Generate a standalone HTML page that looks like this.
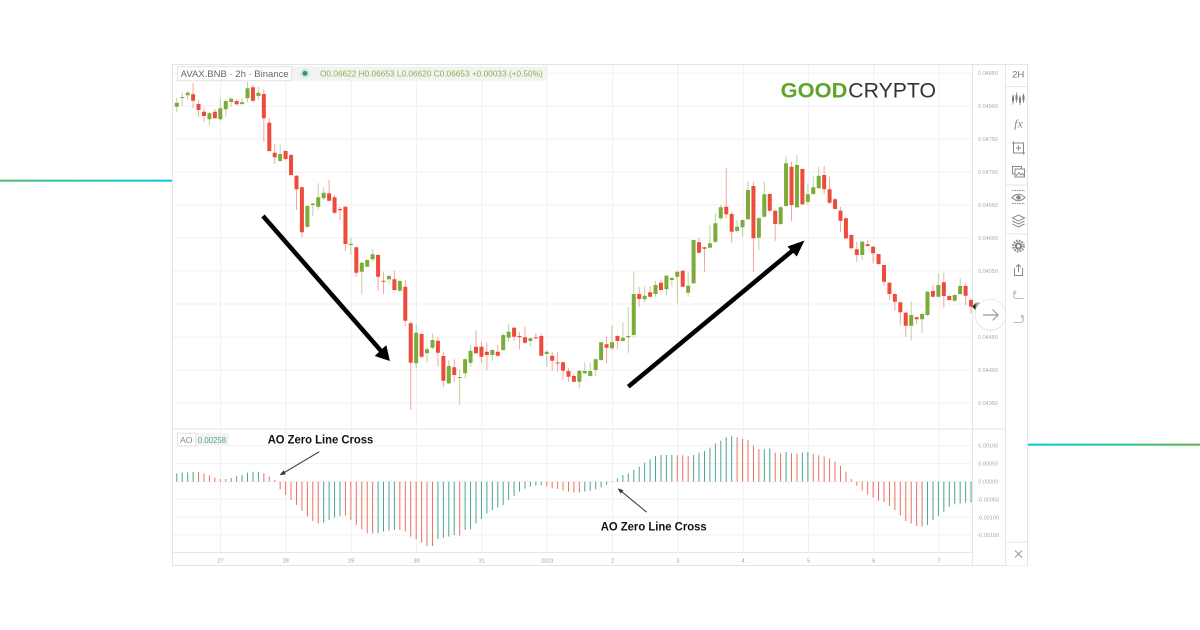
<!DOCTYPE html>
<html><head><meta charset="utf-8"><style>
html,body{margin:0;padding:0;background:#fff;}
svg{display:block;font-family:"Liberation Sans",Arial,sans-serif;}
</style></head><body>
<svg width="1200" height="630" viewBox="0 0 1200 630" xmlns="http://www.w3.org/2000/svg">
<defs>
<linearGradient id="gl" x1="0" x2="1" y1="0" y2="0"><stop offset="0" stop-color="#4fb86c"/><stop offset="1" stop-color="#00c8e4"/></linearGradient>
<linearGradient id="gr" x1="0" x2="1" y1="0" y2="0"><stop offset="0" stop-color="#00c8e4"/><stop offset="1" stop-color="#5cb548"/></linearGradient>
</defs>
<rect width="1200" height="630" fill="#fff"/>
<rect x="0" y="179.7" width="172" height="2" fill="url(#gl)"/>
<rect x="1028" y="443.7" width="172" height="2" fill="url(#gr)"/>

<!-- frame -->
<rect x="172.5" y="64.5" width="855" height="501" fill="#fff" stroke="#e4e4e4"/>

<!-- grid -->
<g stroke="#f1f1f1" stroke-width="1">
<path d="M173 73H972M173 106H972M173 139H972M173 172H972M173 205H972M173 238H972M173 271H972M173 304H972M173 337H972M173 370H972M173 403H972"/>
<path d="M173 445.7H972M173 463.7H972M173 481.7H972M173 499.3H972M173 517.3H972M173 535H972"/>
<path d="M220.5 65V552M285.8 65V552M351.2 65V552M416.5 65V552M481.8 65V552M547.2 65V552M612.5 65V552M677.8 65V552M743.2 65V552M808.5 65V552M873.8 65V552M939.2 65V552"/>
</g>
<g stroke="#e6e6e6" stroke-width="1">
<path d="M173 429H1005M173 552.5H972M972.5 65V566M1005.5 65V566"/>
</g>

<!-- candles -->
<g transform="matrix(5.44 0 0 1 176.8 0)" fill="none">
<path vector-effect="non-scaling-stroke" stroke="#7aab3b" stroke-opacity="0.5" stroke-width="1" d="M0 98V112M1 92.7V106M2 91V100M6 111.7V126M8 98V120.7M9 99V116.7M10 97.7V106.7M12 98.3V105M13 81.7V101.7M15 86.7V100M19 144.3V161.7M24 205V228.3M25 203.3V216M26 183.3V210M27 187.3V200M32 238.3V255M34 261.7V294M35 259.3V267.3M36 249.3V261.7M39 275V284M41 280V291.7M44 324V368.3M46 346.7V362.7M47 333.3V349.3M50 360V384.3M52 369.3V405M53 358.3V378.3M54 345V366.7M58 349.3V360.7M60 333.3V350.7M61 324V341.7M65 337.7V346.7M68 350.7V366.7M74 370V388.3M75 362.3V374M76 362.7V376.7M77 358.3V376M78 341.7V360.7M80 325V350M82 322.3V341.7M83 306.7V352.7M84 271.7V337.3M86 286V302.7M88 280.7V296.7M90 275V295M91 276.7V286.7M92 271V303.3M94 271.7V296.7M95 239.3V284M98 225V248M99 213.3V243.3M100 205V220M103 220V232.7M104 219.3V236.7M105 181V220M107 216.7V250M108 181.7V217.3M111 206V225M112 156.7V206.7M114 155V208.3M116 183.3V205M117 176V195M118 167.3V189.3M126 240.7V260M135 301.7V340.7M137 312.7V333.3M138 290.7V316M140 273.3V297.3M143 294V301.7M144 278.3V295"/>
<path vector-effect="non-scaling-stroke" stroke="#ef4b3b" stroke-opacity="0.5" stroke-width="1" d="M3 83V108M4 100V117M5 108V121.7M7 109V119M11 99.3V105M14 85V102.7M16 89.3V141.7M17 118.3V151.7M18 144V164M20 150V160M21 154V175.7M22 175V210M23 186.7V237.3M28 180V201.7M29 195V214M30 206.7V220M31 206V250.7M33 246.7V276.7M37 254V290.7M38 271.7V294M40 270.7V290.7M42 280V326M43 321.7V410M45 332.7V358.3M48 336.7V366.7M49 351.7V386.7M51 359.3V381.7M55 330V354M56 341.7V363.3M57 342.7V370M59 345V356.7M62 326.7V340.7M63 331.7V349.3M64 326.7V344M66 333.3V339.3M67 333.3V356M69 351.7V370.7M70 351.7V371.7M71 361.7V379.3M72 368.3V381.7M73 374V382.3M79 336.7V363.3M81 335V349.3M85 286.7V306.7M87 286V297.3M89 280V290.7M93 270V287.3M96 237.7V253.3M97 246.7V271.7M101 168.3V218.3M102 211.7V243.3M106 181.7V271.7M109 193.3V211.7M110 210V240.7M113 161.7V220.7M115 168.3V205M119 166V194M120 176.7V204M121 198.3V209.3M122 206.7V231.7M123 217.3V239.3M124 234.3V249.3M125 241.7V261.7M127 240V246.7M128 246V263.3M129 254V265M130 265V286M131 281.7V300M132 293.3V310.7M133 301.7V325M134 311.7V336.7M136 316.7V324.3M139 285V297.3M141 272.7V308.3M142 295V300.7M145 283.3V305M146 298.3V313.3"/>
<path vector-effect="non-scaling-stroke" stroke="#7aab3b" stroke-width="4" d="M0 102.7V106.7M1 97V98M2 92.7V95.3M6 113.3V119.3M8 108.3V119.3M9 101V109.3M10 98.7V102M12 102.3V104M13 88.3V98.3M15 92.7V96M19 154V161M24 206V226.7M25 203.5V205M26 197.3V206.7M27 192.7V198.3M32 243.7V245M34 262.7V271.7M35 260V266.7M36 254.3V259.3M39 276V279.3M41 281V290.7M44 332.7V363.3M46 349.3V353.3M47 340V347.7M50 366V383.3M52 377V378M53 359.3V373.3M54 350.7V362.7M58 350V355M60 335V350M61 331.7V337.7M65 338.3V341M68 351.7V354M74 370.7V381.7M75 371V373.3M76 371V376M77 359.3V370M78 342.3V360M80 342.3V348.3M82 337.7V341M83 336V337.3M84 294V335M86 295.7V299.3M88 285V294M90 275.7V289.3M91 278V280M92 271.7V276.7M94 285.7V292.7M95 240V283.3M98 243.3V247.7M99 223.3V241.7M100 207.3V218.3M103 226.7V231M104 220V227.3M105 190V219.3M107 218.3V237.7M108 194.3V216.7M111 207.3V224M112 163.3V206M114 165V207.3M116 194.3V201.7M117 187.3V194M118 175.7V188.3M126 241.7V255M135 315V325.7M137 314V319.3M138 291.7V315M140 285V296.7M143 295V300.7M144 286V294"/>
<path vector-effect="non-scaling-stroke" stroke="#ef4b3b" stroke-width="4" d="M3 94.3V100.7M4 104V110M5 111.7V116M7 111.7V118.3M11 101V104.3M14 87.3V100.7M16 94V118.3M17 122.7V151M18 152.7V157.3M20 151V159M21 155V175M22 175.7V189.3M23 187.3V232.3M28 193.3V200.7M29 197.3V212.7M30 209V210.3M31 206.7V244M33 247.3V272.7M37 255V276.7M38 280.7V281.7M40 279.3V290M42 286.7V320.7M43 323.3V362.7M45 334V356.7M48 340.7V352.7M49 356V380.7M51 367.3V375M55 346.7V353.3M56 346.7V356.7M57 351.7V355M59 351.7V355.7M62 327.7V336.7M63 336V337.3M64 337.3V342.7M66 337.3V338.3M67 336V355.7M69 355.7V360.7M70 362.5V363.5M71 362.3V370.7M72 371V376.7M73 376V381.7M79 344.3V347.7M81 336V341M85 294V299M87 292.3V296.7M89 282.7V290M93 270.7V286.7M96 242.3V252.7M97 247.3V248.7M101 206.7V214.3M102 214V231.7M106 186V238.3M109 194V210.7M110 210.7V224M113 166.7V205M115 169V204.3M119 175V189.3M120 189.3V202.7M121 199.3V209M122 210.7V220.7M123 218.3V238.3M124 235V248.3M125 249.3V255M127 244.3V246M128 246.7V253.3M129 254V264M130 265V281.7M131 282.7V294M132 294V301.7M133 302.3V312.3M134 312.7V325.7M136 317.3V319.3M139 291V296.7M141 282.3V296M142 296V300M145 286V295.7M146 300V306.7"/>
</g>

<!-- AO histogram -->
<g transform="matrix(5.44 0 0 0.333333 176.8 420)" fill="none">
<path vector-effect="non-scaling-stroke" stroke="#4aa593" stroke-width="1" d="M0 185V160M1 185V158M2 185V157M3 185V156M10 185V174M11 185V168M12 185V165M13 185V158M14 185V155M15 185V156M27 185V308M28 185V300M29 185V292M30 185V288M37 185V340M38 185V335M39 185V332M40 185V330M48 185V357M49 185V353M50 185V350M51 185V345M53 185V330M54 185V328M55 185V310M56 185V297M57 185V280M58 185V270M59 185V262M60 185V255M61 185V240M62 185V228M63 185V215M64 185V206M65 185V200M66 185V197M67 185V196M75 185V215M76 185V212M77 185V208M78 185V202M79 185V195M80 185V183M81 185V175M82 185V165M83 185V160M84 185V150M85 185V140M86 185V128M87 185V118M88 185V108M89 185V105M90 185V105M91 185V105M95 185V105M96 185V98M97 185V93M98 185V83M99 185V70M100 185V62M101 185V52M102 185V48M108 185V87M109 185V85M112 185V96M115 185V98M116 185V96M138 185V315M139 185V300M140 185V288M141 185V275M142 185V260M143 185V253M144 185V250M145 185V248M146 185V248"/>
<path vector-effect="non-scaling-stroke" stroke="#ee6f5e" stroke-width="1" d="M4 185V156M5 185V160M6 185V166M7 185V173M8 185V177M9 185V177M16 185V160M17 185V170M18 185V180M19 185V208M20 185V225M21 185V240M22 185V255M23 185V272M24 185V290M25 185V303M26 185V310M31 185V287M32 185V300M33 185V315M34 185V328M35 185V340M36 185V340M41 185V330M42 185V335M43 185V350M44 185V358M45 185V368M46 185V378M47 185V378M52 185V347M68 185V200M69 185V205M70 185V207M71 185V212M72 185V215M73 185V218M74 185V218M92 185V106M93 185V106M94 185V108M103 185V52M104 185V57M105 185V60M106 185V77M107 185V87M110 185V98M111 185V101M113 185V100M114 185V100M117 185V102M118 185V106M119 185V110M120 185V115M121 185V125M122 185V138M123 185V155M124 185V177M125 185V197M126 185V212M127 185V224M128 185V233M129 185V242M130 185V246M131 185V258M132 185V270M133 185V287M134 185V303M135 185V311M136 185V318M137 185V320"/>
</g>

<!-- big arrows -->
<g stroke="#000" stroke-width="4.5" stroke-linecap="butt" fill="#000">
<path d="M263 216L382 352" fill="none"/>
<polygon points="374.7,356 386.3,345 389.9,361" stroke="none"/>
<path d="M628.3 386.7L795 248.5" fill="none"/>
<polygon points="787.5,246.5 796.8,256.5 804.5,240.5" stroke="none"/>
</g>

<!-- thin annotation arrows -->
<g stroke="#333" stroke-width="1" fill="#333">
<path d="M319.3 451.7L283 473.3" fill="none"/>
<polygon points="279.5,475.3 283.6,470.4 285.8,474.2" stroke="none"/>
<path d="M646.7 512.3L621 491" fill="none"/>
<polygon points="617.7,488.3 623.4,490.2 620.6,493.6" stroke="none"/>
</g>
<text x="267.7" y="443.3" font-size="11.5" font-weight="bold" fill="#111" textLength="105.6" lengthAdjust="spacingAndGlyphs">AO Zero Line Cross</text>
<text x="600.7" y="530.5" font-size="11.5" font-weight="bold" fill="#111" textLength="106" lengthAdjust="spacingAndGlyphs">AO Zero Line Cross</text>

<!-- top legend -->
<rect x="291.7" y="66.5" width="255.5" height="14.2" fill="#f3f4f2"/>
<rect x="177.5" y="66.7" width="114" height="14" fill="#fff" stroke="#e2e2e2"/>
<text x="180.7" y="76.8" font-size="9.4" fill="#666" textLength="108" lengthAdjust="spacingAndGlyphs">AVAX.BNB · 2h · Binance</text>
<circle cx="305" cy="73.4" r="5" fill="#d6ebe6"/>
<circle cx="305" cy="73.4" r="2.5" fill="#3a8f80"/>
<text x="320" y="76.6" font-size="8.3" fill="#88b24c" textLength="222.7" lengthAdjust="spacingAndGlyphs">O0.06622 H0.06653 L0.06620 C0.06653 +0.00033 (+0.50%)</text>

<!-- AO legend -->
<rect x="195.8" y="433" width="33" height="13.2" fill="#f3f4f3"/>
<rect x="177.5" y="433.3" width="18.5" height="12.7" fill="#fff" stroke="#e2e2e2"/>
<text x="180" y="443" font-size="8.6" fill="#888">AO</text>
<text x="197.8" y="443" font-size="8.6" fill="#4ea593" textLength="28.3" lengthAdjust="spacingAndGlyphs">0.00258</text>

<!-- logo -->
<text x="780.7" y="97.4" font-size="21" font-weight="bold" fill="#5ea52c" textLength="66.7" lengthAdjust="spacingAndGlyphs">GOOD</text>
<text x="848.3" y="97.4" font-size="21" fill="#333" textLength="87.7" lengthAdjust="spacingAndGlyphs">CRYPTO</text>

<!-- price axis labels -->
<g fill="#aaa" font-size="11">
<text transform="translate(978,75) scale(0.5)">0.04850</text>
<text transform="translate(978,108) scale(0.5)">0.04800</text>
<text transform="translate(978,141) scale(0.5)">0.04750</text>
<text transform="translate(978,174) scale(0.5)">0.04700</text>
<text transform="translate(978,207) scale(0.5)">0.04650</text>
<text transform="translate(978,240) scale(0.5)">0.04600</text>
<text transform="translate(978,273) scale(0.5)">0.04550</text>
<text transform="translate(978,339) scale(0.5)">0.04450</text>
<text transform="translate(978,372) scale(0.5)">0.04400</text>
<text transform="translate(978,405) scale(0.5)">0.04350</text>
<text transform="translate(978.3,447.7) scale(0.5)">0.00100</text>
<text transform="translate(978.3,465.7) scale(0.5)">0.00050</text>
<text transform="translate(978.3,483.7) scale(0.5)">0.00000</text>
<text transform="translate(977.3,501.3) scale(0.5)">-0.00050</text>
<text transform="translate(977.3,519.3) scale(0.5)">-0.00100</text>
<text transform="translate(977.3,537) scale(0.5)">-0.00150</text>
</g>
<!-- date labels -->
<g fill="#999" font-size="11" text-anchor="middle">
<text transform="translate(220.5,562.5) scale(0.5)">27</text>
<text transform="translate(285.8,562.5) scale(0.5)">28</text>
<text transform="translate(351.2,562.5) scale(0.5)">29</text>
<text transform="translate(416.5,562.5) scale(0.5)">30</text>
<text transform="translate(481.8,562.5) scale(0.5)">31</text>
<text transform="translate(547.2,562.5) scale(0.5)">2023</text>
<text transform="translate(612.5,562.5) scale(0.5)">2</text>
<text transform="translate(677.8,562.5) scale(0.5)">3</text>
<text transform="translate(743.2,562.5) scale(0.5)">4</text>
<text transform="translate(808.5,562.5) scale(0.5)">5</text>
<text transform="translate(873.8,562.5) scale(0.5)">6</text>
<text transform="translate(939.2,562.5) scale(0.5)">7</text>
</g>

<!-- price tag -->
<polygon points="972.3,306.6 976,302.6 976,310.6" fill="#222"/>
<rect x="975.5" y="302.6" width="25" height="8" fill="#9a9a9a"/>
<text transform="translate(977.5,308.8) scale(0.5)" font-size="11" fill="#eee">0.04496</text>

<!-- scroll button -->
<circle cx="990.5" cy="315.5" r="16" fill="#f2f2f2"/>
<circle cx="990.5" cy="314.5" r="15.3" fill="#fff" stroke="#ececec"/>
<path d="M983 315H998M992.5 309.5L998 315L992.5 320.5" fill="none" stroke="#999" stroke-width="1.2"/>

<!-- toolbar -->
<rect x="1006" y="65" width="21" height="500.5" fill="#fff"/>
<g stroke="#e6e6e6" stroke-width="1">
<path d="M1006 86.5H1027M1006 185H1027M1006 234H1027M1006 542H1027M1005.5 65V566"/>
</g>
<text x="1018.2" y="77.4" font-size="9.6" fill="#777" text-anchor="middle">2H</text>
<!-- candles icon -->
<g fill="#7d7d7d" stroke="#7d7d7d" stroke-width="0.8">
<path d="M1013 94.5V104.5M1016.5 92.5V102.5M1020 95.5V105M1023.5 93.5V103" fill="none"/>
<rect x="1012" y="96.5" width="2" height="5" stroke="none"/>
<rect x="1015.5" y="95" width="2" height="5" stroke="none"/>
<rect x="1019" y="97.5" width="2" height="5" stroke="none"/>
<rect x="1022.5" y="95.5" width="2" height="5" stroke="none"/>
</g>
<text x="1018.5" y="127.5" font-size="12" font-style="italic" fill="#888" text-anchor="middle" font-family="Liberation Serif, serif">fx</text>
<!-- crop icon -->
<g fill="none" stroke="#888" stroke-width="1">
<rect x="1013.5" y="143" width="10" height="10"/>
<path d="M1018.5 145.5V150.5M1016 148H1021"/>
<path d="M1012 143H1015M1013.5 141.5V144.5M1022 153H1025M1023.5 151.5V154.5"/>
</g>
<!-- image icon -->
<g fill="none" stroke="#888" stroke-width="1">
<rect x="1012.5" y="166.5" width="9" height="7.5"/>
<rect x="1015" y="169" width="9.5" height="8" fill="#fff"/>
<path d="M1016 176L1019 172.5L1021 175L1022.5 173.5L1024 175.5"/>
</g>
<!-- eye icon -->
<g fill="none" stroke="#888" stroke-width="1">
<path d="M1012 190.5H1025" stroke-dasharray="1.5 1"/>
<path d="M1012 197.5Q1018.5 191 1025 197.5Q1018.5 204 1012 197.5Z"/>
<circle cx="1018.5" cy="197.5" r="1.8" fill="#888"/>
<path d="M1012 203.5H1025" stroke-dasharray="1.5 1"/>
</g>
<!-- layers icon -->
<g fill="none" stroke="#888" stroke-width="1">
<path d="M1012.5 218L1018.5 215L1024.5 218L1018.5 221Z"/>
<path d="M1012.5 221L1018.5 224L1024.5 221"/>
<path d="M1012.5 224L1018.5 227L1024.5 224"/>
</g>
<!-- gear -->
<circle cx="1018.5" cy="246" r="3.8" fill="#888"/>
<circle cx="1018.5" cy="246" r="5.3" fill="none" stroke="#888" stroke-width="2.2" stroke-dasharray="1.6 1.2"/>
<circle cx="1018.5" cy="246" r="1.5" fill="#fff"/>
<!-- share -->
<g fill="none" stroke="#888" stroke-width="1">
<path d="M1014.5 268V275.5H1022.5V268"/>
<path d="M1018.5 272V264.5M1016 267L1018.5 264.5L1021 267"/>
</g>
<!-- undo/redo -->
<g fill="none" stroke="#bbb" stroke-width="1.1">
<path d="M1023.5 298.5H1016.5A2.8 2.8 0 0 1 1016.5 292.5H1013.5M1015.5 290.5L1013.5 292.5L1015.5 294.5"/>
<path d="M1013.5 322.5H1020.5A2.8 2.8 0 0 0 1020.5 316.5H1023.5M1021.5 314.5L1023.5 316.5L1021.5 318.5"/>
</g>
<!-- close -->
<path d="M1015 550.5L1022 557.5M1022 550.5L1015 557.5" stroke="#999" stroke-width="1"/>
</svg>
</body></html>
